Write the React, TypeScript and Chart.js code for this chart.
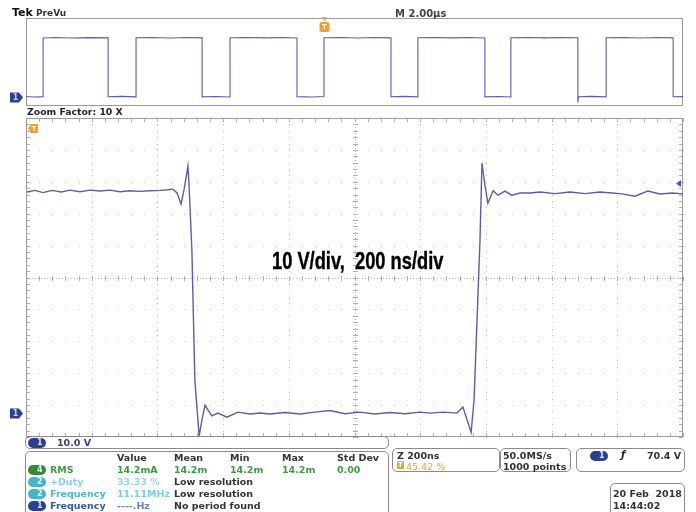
import React, { useEffect, useRef } from "react";
import { Chart, registerables } from "chart.js";

Chart.register(...registerables);

// ---------------- data ----------------
// Zoomed window (200 ns/div, 10 V/div): CH1 waveform
const ZOOM_TIME_NS = [
  3, 27, 52, 79, 107, 134, 164, 195, 225, 256, 286, 317, 347, 377, 408, 432, 447, 460, 472, 482,
  493, 496, 505, 514, 527, 536, 545, 556, 566, 584, 612, 645, 682, 712, 743, 788, 834, 880, 925,
  971, 1017, 1062, 1108, 1154, 1199, 1230, 1269, 1312, 1330, 1355, 1364, 1373, 1382, 1388, 1397,
  1406, 1422, 1437, 1458, 1479, 1504, 1534, 1565, 1610, 1656, 1702, 1747, 1784, 1814, 1854, 1893,
  1930, 1967, 2000,
];
const ZOOM_CH1_V = [
  69.3, 69.8, 69.1, 69.8, 69.3, 69.9, 69.4, 69.9, 69.6, 69.9, 69.4, 69.7, 69.5, 69.7, 69.8, 70.0,
  70.2, 69.0, 65.5, 70.5, 77.4, 72.1, 51.1, 10.3, -7.2, -2.0, 2.5, 0.6, -0.9, 0.0, -1.3, 0.3, -0.3,
  0.0, -0.3, 0.2, -0.3, 0.3, 0.8, -0.2, 0.3, -0.3, 0.2, -0.2, 0.3, 0.0, 0.3, 0.0, 1.9, -6.0, 4.1,
  29.2, 54.2, 78.4, 71.5, 65.8, 69.7, 68.3, 69.6, 68.3, 69.0, 69.0, 69.3, 68.8, 69.3, 68.8, 69.3,
  69.0, 68.7, 68.0, 69.6, 68.7, 69.0, 68.7,
];

// PreVu window (2.00 µs/div): CH1 waveform
const PREVU_TIME_US = [
  0, 0.25, 0.52, 0.52, 0.9, 1.4, 1.9, 2.5, 2.5, 2.9, 3.35, 3.35, 3.8, 4.4, 4.9, 5.36, 5.36, 5.8,
  6.21, 6.21, 6.7, 7.3, 7.8, 8.25, 8.25, 8.7, 9.07, 9.07, 9.6, 10.1, 10.6, 11.11, 11.11, 11.5,
  11.93, 11.93, 12.4, 13.0, 13.5, 13.97, 13.97, 14.4, 14.76, 14.76, 15.3, 15.8, 16.3, 16.8, 16.8,
  16.82, 17.2, 17.66, 17.66, 18.2, 18.7, 19.2, 19.7, 19.7, 20,
];
const PREVU_CH1_V = [
  0.8, 0.3, 0.6, 67.2, 67.8, 67.3, 67.7, 67.4, 0.5, 0.9, 0.4, 67.5, 67.9, 67.3, 67.8, 67.4, 0.4,
  0.8, 0.3, 67.6, 67.9, 67.4, 67.8, 67.3, 0.6, 0.2, 0.7, 67.5, 67.9, 67.3, 67.8, 67.4, 0.5, 0.9,
  0.4, 67.6, 67.9, 67.4, 67.8, 67.3, 0.4, 0.8, 0.3, 67.5, 67.9, 67.4, 67.8, 67.5, -6.0, 0.5, 0.9,
  0.4, 67.6, 67.9, 67.3, 67.8, 67.4, 0.5, 0.7,
];

const ZOOM_TIME_RANGE_NS = [0, 2000];
const ZOOM_VOLT_RANGE = [-7.5, 92.5];
const PREVU_TIME_RANGE_US = [0, 20];
const PREVU_VOLT_RANGE = [-10, 90];
const H_DIVS = 10;
const V_DIVS = 10;
const TRIGGER_TIME_US = 9.07;
const TRIGGER_MARK_V = 72;

const MEAS_HEADERS = ["Value", "Mean", "Min", "Max", "Std Dev"];
const MEAS_SOURCES = ["4", "2", "2", "1"];
const MEAS_NAMES = ["RMS", "+Duty", "Frequency", "Frequency"];
const MEAS_VALUES = ["14.2mA", "33.33 %", "11.11MHz", "----.Hz"];
const MEAS_STATS = [["14.2m", "14.2m", "14.2m", "0.00"], ["Low resolution"], ["Low resolution"], ["No period found"]];

// ---------------- styling ----------------
const W = 696;
const H = 512;
const WAVE = "#5a5dab";
const FRAME = "#9a9a9a";
const DOT = "#bcbcbc";
const ORANGE = "#f0a22a";
const CH1 = "#2c3f93";
const UI = '"DejaVu Sans", Verdana, sans-serif';

const PILL_BG = ["#2f8a3a", "#43b6c8", "#43b6c8", CH1];
const NAME_COL = ["#3d9b45", "#8ad0e0", "#4fb5cf", "#3b55a8"];
const VAL_COL = ["#3d9b45", "#9ad6e4", "#7ccbe0", "#6b7fc4"];

function makeGraticule(withGrid: boolean) {
  return {
    id: "graticule",
    beforeDatasetsDraw(chart: any) {
      const { ctx, chartArea: a } = chart;
      const xs = chart.scales.x;
      const ys = chart.scales.y;
      const xAt = (f: number) => Math.round(xs.getPixelForValue(xs.min + f * (xs.max - xs.min)));
      const yAt = (f: number) => Math.round(ys.getPixelForValue(ys.min + f * (ys.max - ys.min)));
      ctx.save();
      if (withGrid) {
        ctx.fillStyle = DOT;
        for (let i = 1; i < H_DIVS; i++) {
          const x = xAt(i / H_DIVS);
          for (let j = 0; j <= V_DIVS * 5; j++) ctx.fillRect(x, yAt(j / (V_DIVS * 5)), 1, 1);
        }
        for (let j = 1; j < V_DIVS; j++) {
          const y = yAt(j / V_DIVS);
          for (let i = 0; i <= H_DIVS * 5; i++) ctx.fillRect(xAt(i / (H_DIVS * 5)), y, 1, 1);
        }
        const cx = xAt(0.5);
        const cy = yAt(0.5);
        for (let y = a.top; y < a.bottom; y += 3) ctx.fillRect(cx, y, 1, 1);
        for (let x = a.left; x < a.right; x += 3) ctx.fillRect(x, cy, 1, 1);
        ctx.fillStyle = "#b0b0b0";
        for (let j = 0; j <= V_DIVS * 5; j++) {
          const y = yAt(j / (V_DIVS * 5));
          ctx.fillRect(cx - 2, y, 5, 1);
          ctx.fillRect(a.left, y, 4, 1);
          ctx.fillRect(a.right - 4, y, 4, 1);
        }
        for (let i = 0; i <= H_DIVS * 5; i++) {
          const x = xAt(i / (H_DIVS * 5));
          ctx.fillRect(x, cy - 2, 1, 5);
          ctx.fillRect(x, a.top, 1, 4);
          ctx.fillRect(x, a.bottom - 4, 1, 4);
        }
      }
      ctx.strokeStyle = FRAME;
      ctx.lineWidth = 1;
      ctx.strokeRect(a.left + 0.5, a.top + 0.5, a.right - a.left - 1, a.bottom - a.top - 1);
      ctx.restore();
    },
    afterDatasetsDraw(chart: any) {
      const { ctx, chartArea: a } = chart;
      const xs = chart.scales.x;
      const ys = chart.scales.y;
      ctx.save();
      // channel 1 ground marker
      const gy = Math.round(ys.getPixelForValue(0)) + 0.5;
      ctx.fillStyle = CH1;
      ctx.beginPath();
      ctx.moveTo(10, gy - 5);
      ctx.lineTo(19, gy - 5);
      ctx.lineTo(23, gy);
      ctx.lineTo(19, gy + 5);
      ctx.lineTo(10, gy + 5);
      ctx.closePath();
      ctx.fill();
      ctx.fillStyle = "#c9d3ff";
      ctx.font = 'bold 8px "DejaVu Sans"';
      ctx.textAlign = "center";
      ctx.textBaseline = "middle";
      ctx.fillText("1", 15.5, gy + 0.5);
      if (withGrid) {
        // trigger level arrow on right edge
        const ty = ys.getPixelForValue(TRIGGER_MARK_V);
        ctx.fillStyle = "#4a5ab4";
        ctx.beginPath();
        ctx.moveTo(a.right - 7, ty);
        ctx.lineTo(a.right - 2, ty - 3.5);
        ctx.lineTo(a.right - 2, ty + 3.5);
        ctx.closePath();
        ctx.fill();
        // trigger off-screen indicator (top-left)
        ctx.fillStyle = ORANGE;
        ctx.beginPath();
        ctx.moveTo(a.left + 2, a.top + 10.5);
        ctx.lineTo(a.left + 5, a.top + 6);
        ctx.lineTo(a.left + 12, a.top + 6);
        ctx.lineTo(a.left + 12, a.top + 15);
        ctx.lineTo(a.left + 5, a.top + 15);
        ctx.closePath();
        ctx.fill();
        ctx.fillStyle = "#fff";
        ctx.font = 'bold 7px "DejaVu Sans"';
        ctx.fillText("T", a.left + 8, a.top + 11);
      } else {
        // trigger position marker at top of PreVu
        const tx = Math.round(xs.getPixelForValue(TRIGGER_TIME_US)) + 0.5;
        ctx.fillStyle = ORANGE;
        ctx.beginPath();
        ctx.moveTo(tx - 2.5, a.top - 1);
        ctx.lineTo(tx + 2.5, a.top - 1);
        ctx.lineTo(tx, a.top + 3);
        ctx.closePath();
        ctx.fill();
        ctx.beginPath();
        ctx.roundRect(tx - 5, a.top + 4, 10, 10, 2);
        ctx.fill();
        ctx.fillStyle = "#fff";
        ctx.font = 'bold 7px "DejaVu Sans"';
        ctx.fillText("T", tx, a.top + 9.5);
      }
      ctx.restore();
    },
  };
}

function buildChart(canvas: HTMLCanvasElement, xs: number[], ys: number[], xr: number[], yr: number[], pad: any, withGrid: boolean) {
  return new Chart(canvas, {
    type: "line",
    data: {
      datasets: [
        {
          data: xs.map((x, i) => ({ x, y: ys[i] })),
          borderColor: WAVE,
          borderWidth: withGrid ? 1.4 : 1.1,
          pointRadius: 0,
          tension: 0,
          fill: false,
        },
      ],
    },
    options: {
      animation: false,
      responsive: false,
      maintainAspectRatio: false,
      events: [],
      layout: { padding: pad },
      scales: {
        x: { type: "linear", display: false, min: xr[0], max: xr[1] },
        y: { type: "linear", display: false, min: yr[0], max: yr[1] },
      },
      plugins: { legend: { display: false }, tooltip: { enabled: false } },
    },
    plugins: [makeGraticule(withGrid) as any],
  });
}

const abs = (left: number, top: number, extra: any = {}) => ({ position: "absolute" as const, left, top, ...extra });
const txt = (size: number, color: string, bold = true) => ({
  fontFamily: UI,
  fontSize: size,
  lineHeight: `${size}px`,
  fontWeight: bold ? 700 : 400,
  color,
  whiteSpace: "pre" as const,
});
const box = (left: number, top: number, width: number, height: number) =>
  abs(left, top, { width, height, boxSizing: "border-box", border: "1px solid #8a8a8a", borderRadius: 5 });

function Pill({ x, y, bg, n }: { x: number; y: number; bg: string; n: string }) {
  return (
    <div style={abs(x, y, { width: 18, height: 10, borderRadius: 5, background: bg })}>
      <span style={abs(9, 1, { ...txt(8, "#ffffff"), opacity: 0.85 })}>{n}</span>
    </div>
  );
}

export default function App() {
  const prevRef = useRef<HTMLCanvasElement>(null);
  const zoomRef = useRef<HTMLCanvasElement>(null);

  useEffect(() => {
    const prev = buildChart(
      prevRef.current!,
      PREVU_TIME_US,
      PREVU_CH1_V,
      PREVU_TIME_RANGE_US,
      PREVU_VOLT_RANGE,
      { left: 26, top: 18, right: W - 683, bottom: H - 106 },
      false
    );
    const zoom = buildChart(
      zoomRef.current!,
      ZOOM_TIME_NS,
      ZOOM_CH1_V,
      ZOOM_TIME_RANGE_NS,
      ZOOM_VOLT_RANGE,
      { left: 26, top: 118, right: W - 683, bottom: H - 437 },
      true
    );
    return () => {
      prev.destroy();
      zoom.destroy();
    };
  }, []);

  const headX = [117, 174, 230, 282, 337];
  const rowTop = [465, 477, 488.5, 500.5];

  return (
    <div style={{ position: "fixed", left: 0, top: 0, width: W, height: H, overflow: "hidden", background: "#fff" }}>
      <canvas ref={prevRef} width={W} height={H} style={abs(0, 0, { width: W, height: H })} />
      <canvas ref={zoomRef} width={W} height={H} style={abs(0, 0, { width: W, height: H })} />

      <span style={abs(12, 7, txt(11, "#111"))}>Tek</span>
      <span style={abs(36, 8.5, txt(9, "#333"))}>PreVu</span>
      <span style={abs(395, 8.5, txt(10, "#444"))}>M 2.00µs</span>
      <span style={abs(27, 107, txt(9.3, "#222"))}>Zoom Factor: 10 X</span>

      <span
        style={abs(272, 250, {
          fontFamily: '"Liberation Sans", Arial, sans-serif',
          fontWeight: 700,
          fontSize: 23,
          lineHeight: "23px",
          color: "#000",
          whiteSpace: "pre",
          transform: "scaleX(0.795)",
          transformOrigin: "0 0",
          WebkitTextStroke: "0.4px #000",
        })}
      >
        {"10 V/div,  200 ns/div"}
      </span>

      {/* channel readout */}
      <div style={box(25, 436, 364, 13)} />
      <Pill x={28} y={437.5} bg={CH1} n="1" />
      <span style={abs(57, 438, txt(9.5, "#2d3f85"))}>10.0 V</span>

      {/* measurements */}
      <div style={box(25, 451, 364, 70)} />
      {MEAS_HEADERS.map((h, i) => (
        <span key={h} style={abs(headX[i], 452.5, txt(9.5, "#333"))}>
          {h}
        </span>
      ))}
      {MEAS_NAMES.map((name, r) => (
        <React.Fragment key={r}>
          <Pill x={28} y={rowTop[r]} bg={PILL_BG[r]} n={MEAS_SOURCES[r]} />
          <span style={abs(50, rowTop[r], txt(9.5, NAME_COL[r]))}>{name}</span>
          <span style={abs(117, rowTop[r], txt(9.5, VAL_COL[r]))}>{MEAS_VALUES[r]}</span>
          {MEAS_STATS[r].map((s, k) => (
            <span key={k} style={abs(headX[k + 1], rowTop[r], txt(9.5, r === 0 ? VAL_COL[0] : "#333"))}>
              {s}
            </span>
          ))}
        </React.Fragment>
      ))}

      {/* zoom timebase */}
      <div style={box(392, 448, 108, 24)} />
      <span style={abs(397, 450.5, txt(9.5, "#333"))}>Z 200ns</span>
      <div style={abs(397, 461, { width: 7, height: 8, background: ORANGE, borderRadius: 1 })}>
        <span style={abs(1, 0.5, txt(7, "#fff"))}>T</span>
      </div>
      <span style={abs(406, 461.5, txt(9.5, ORANGE, false))}>45.42 %</span>

      {/* acquisition */}
      <div style={box(500, 448, 71, 24)} />
      <span style={abs(503, 450.5, txt(9.5, "#333"))}>50.0MS/s</span>
      <span style={abs(503, 461.5, txt(9.5, "#333"))}>1000 points</span>

      {/* trigger */}
      <div style={box(576, 448, 109, 24)} />
      <Pill x={590} y={450.5} bg={CH1} n="1" />
      <span style={abs(621, 449.5, { ...txt(10, "#222"), fontStyle: "italic" })}>ƒ</span>
      <span style={abs(647, 450.5, txt(9.5, "#333"))}>70.4 V</span>

      {/* date */}
      <div style={box(610, 483, 75, 40)} />
      <span style={abs(613, 488.5, txt(9.5, "#333"))}>20 Feb  2018</span>
      <span style={abs(613, 500.5, txt(9.5, "#333"))}>14:44:02</span>
    </div>
  );
}
